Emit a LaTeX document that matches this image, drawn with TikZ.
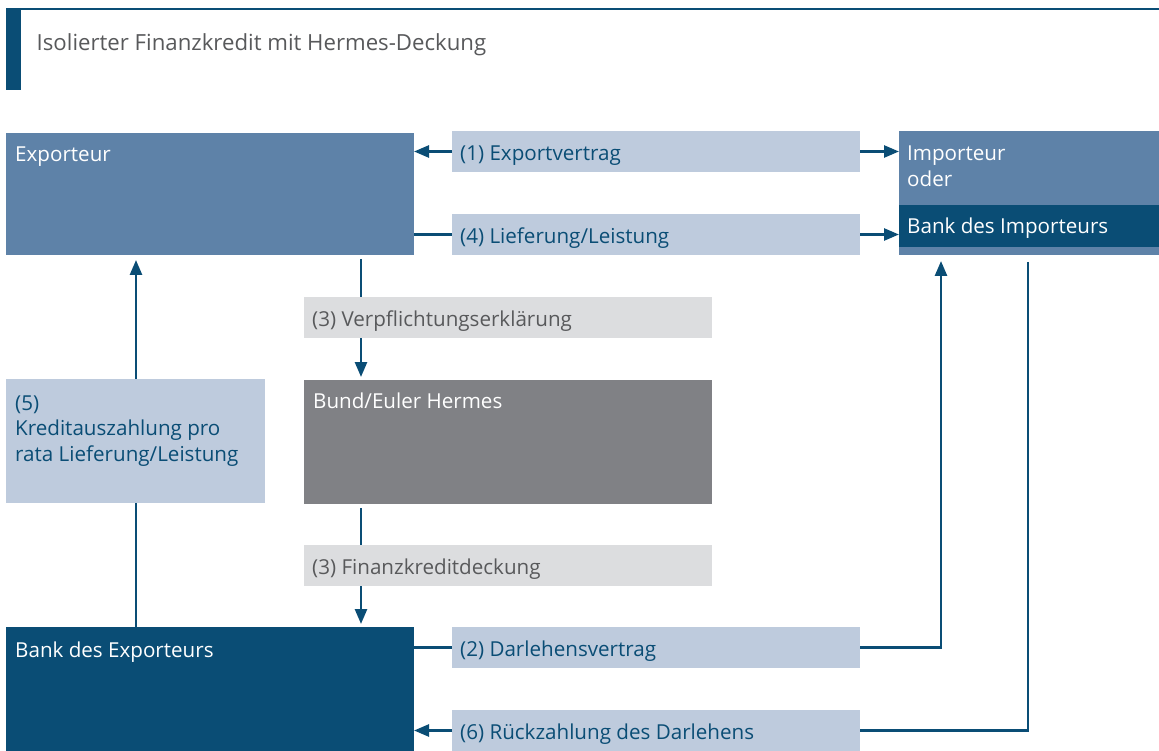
\documentclass[tikz,border=0pt]{standalone}
\usepackage{fontspec}
\setmainfont{Open Sans}
\usetikzlibrary{arrows.meta,calc}
\definecolor{midblue}{RGB}{94,130,168}
\definecolor{darkblue}{RGB}{10,77,117}
\definecolor{lightblue}{RGB}{190,203,221}
\definecolor{lightgray}{RGB}{220,221,223}
\definecolor{boxgray}{RGB}{128,129,133}
\definecolor{titlegray}{RGB}{88,89,91}
\begin{document}
\begin{tikzpicture}[x=1pt,y=-1pt,
  box/.style={draw=none,inner sep=0,outer sep=0,anchor=north west},
  txt/.style={inner sep=0,anchor=base west,font=\fontsize{20.6}{25}\selectfont},
  con/.style={draw=darkblue,line width=2.6pt},
  arr/.style={con,-{Triangle[length=15pt,width=12pt]}}]
\useasboundingbox (0,0) rectangle (1159,751);
% title
\fill[darkblue] (6,8) rectangle (1159,10.5);
\fill[darkblue] (6,8) rectangle (21,90);
\node[txt,font=\fontsize{22.2}{26}\selectfont,text=titlegray] (title) at (36.5,51) {Isolierter Finanzkredit mit Hermes-Deckung};
% main boxes
\node[box,fill=midblue,minimum width=408,minimum height=122] (exp) at (6,133) {};
\node[box,fill=midblue,minimum width=260,minimum height=124] (imp) at (899,131) {};
\node[box,fill=darkblue,minimum width=260,minimum height=42] (impb) at (899,205) {};
\node[box,fill=boxgray,minimum width=408,minimum height=124] (bund) at (304,380) {};
\node[box,fill=darkblue,minimum width=408,minimum height=124] (bex) at (6,627) {};
\node[box,fill=lightblue,minimum width=259,minimum height=124] (l5) at (6,379) {};
% label boxes
\node[box,fill=lightblue,minimum width=408,minimum height=41] (l1) at (452,131) {};
\node[box,fill=lightblue,minimum width=408,minimum height=41] (l4) at (452,214) {};
\node[box,fill=lightgray,minimum width=408,minimum height=41] (l3a) at (304,297) {};
\node[box,fill=lightgray,minimum width=408,minimum height=41] (l3b) at (304,545) {};
\node[box,fill=lightblue,minimum width=408,minimum height=41] (l2) at (452,627) {};
\node[box,fill=lightblue,minimum width=408,minimum height=41] (l6) at (452,710) {};
% texts
\node[txt,text=white] at ([shift={(9,29)}]exp.north west) {Exporteur};
\node[txt,text=white] at ([shift={(8,30)}]imp.north west) {Importeur};
\node[txt,text=white] at ([shift={(8,56)}]imp.north west) {oder};
\node[txt,text=white] at ([shift={(8,28.5)}]impb.north west) {Bank des Importeurs};
\node[txt,text=white] at ([shift={(9,28)}]bund.north west) {Bund/Euler Hermes};
\node[txt,text=white] at ([shift={(9,30)}]bex.north west) {Bank des Exporteurs};
\node[txt,text=darkblue] at ([shift={(9,31)}]l5.north west) {(5)};
\node[txt,text=darkblue] at ([shift={(9,56)}]l5.north west) {Kreditauszahlung pro};
\node[txt,text=darkblue] at ([shift={(9,82)}]l5.north west) {rata Lieferung/Leistung};
\node[txt,text=darkblue] at ([shift={(8,29.5)}]l1.north west) {(1) Exportvertrag};
\node[txt,text=darkblue] at ([shift={(8,29.5)}]l4.north west) {(4) Lieferung/Leistung};
\node[txt,text=titlegray] at ([shift={(8,29.5)}]l3a.north west) {(3) Verpflichtungserklärung};
\node[txt,text=titlegray] at ([shift={(8,29.5)}]l3b.north west) {(3) Finanzkreditdeckung};
\node[txt,text=darkblue] at ([shift={(8,29.5)}]l2.north west) {(2) Darlehensvertrag};
\node[txt,text=darkblue] at ([shift={(8,29.5)}]l6.north west) {(6) Rückzahlung des Darlehens};
% connector columns
\coordinate (c3) at (361,0);
\coordinate (c5) at (136,0);
\coordinate (c2) at (941,0);
\coordinate (c6) at (1028,0);
% connectors
\draw[arr] (l1.west) -- (l1.west -| exp.east);
\draw[arr] (l1.east) -- (l1.east -| imp.west);
\draw[con] (l4.west -| exp.east) -- (l4.west);
\draw[arr] (l4.east) -- (l4.east -| imp.west);
\draw[con,shorten <=4pt] (exp.south -| c3) -- (l3a.north -| c3);
\draw[arr,shorten >=3pt] (l3a.south -| c3) -- (bund.north -| c3);
\draw[con,shorten <=4pt] (bund.south -| c3) -- (l3b.north -| c3);
\draw[arr,shorten >=3pt] (l3b.south -| c3) -- (bex.north -| c3);
\draw[con] (bex.north -| c5) -- (l5.south -| c5);
\draw[arr,shorten >=5pt] (l5.north -| c5) -- (exp.south -| c5);
\draw[con] (l2.west -| bex.east) -- (l2.west);
\draw[arr,shorten >=6pt] (l2.east) -| (imp.south -| c2);
\draw[con,shorten <=7pt] (imp.south -| c6) |- (l6.east);
\draw[arr] (l6.west) -- (l6.west -| bex.east);
\end{tikzpicture}
\end{document}
